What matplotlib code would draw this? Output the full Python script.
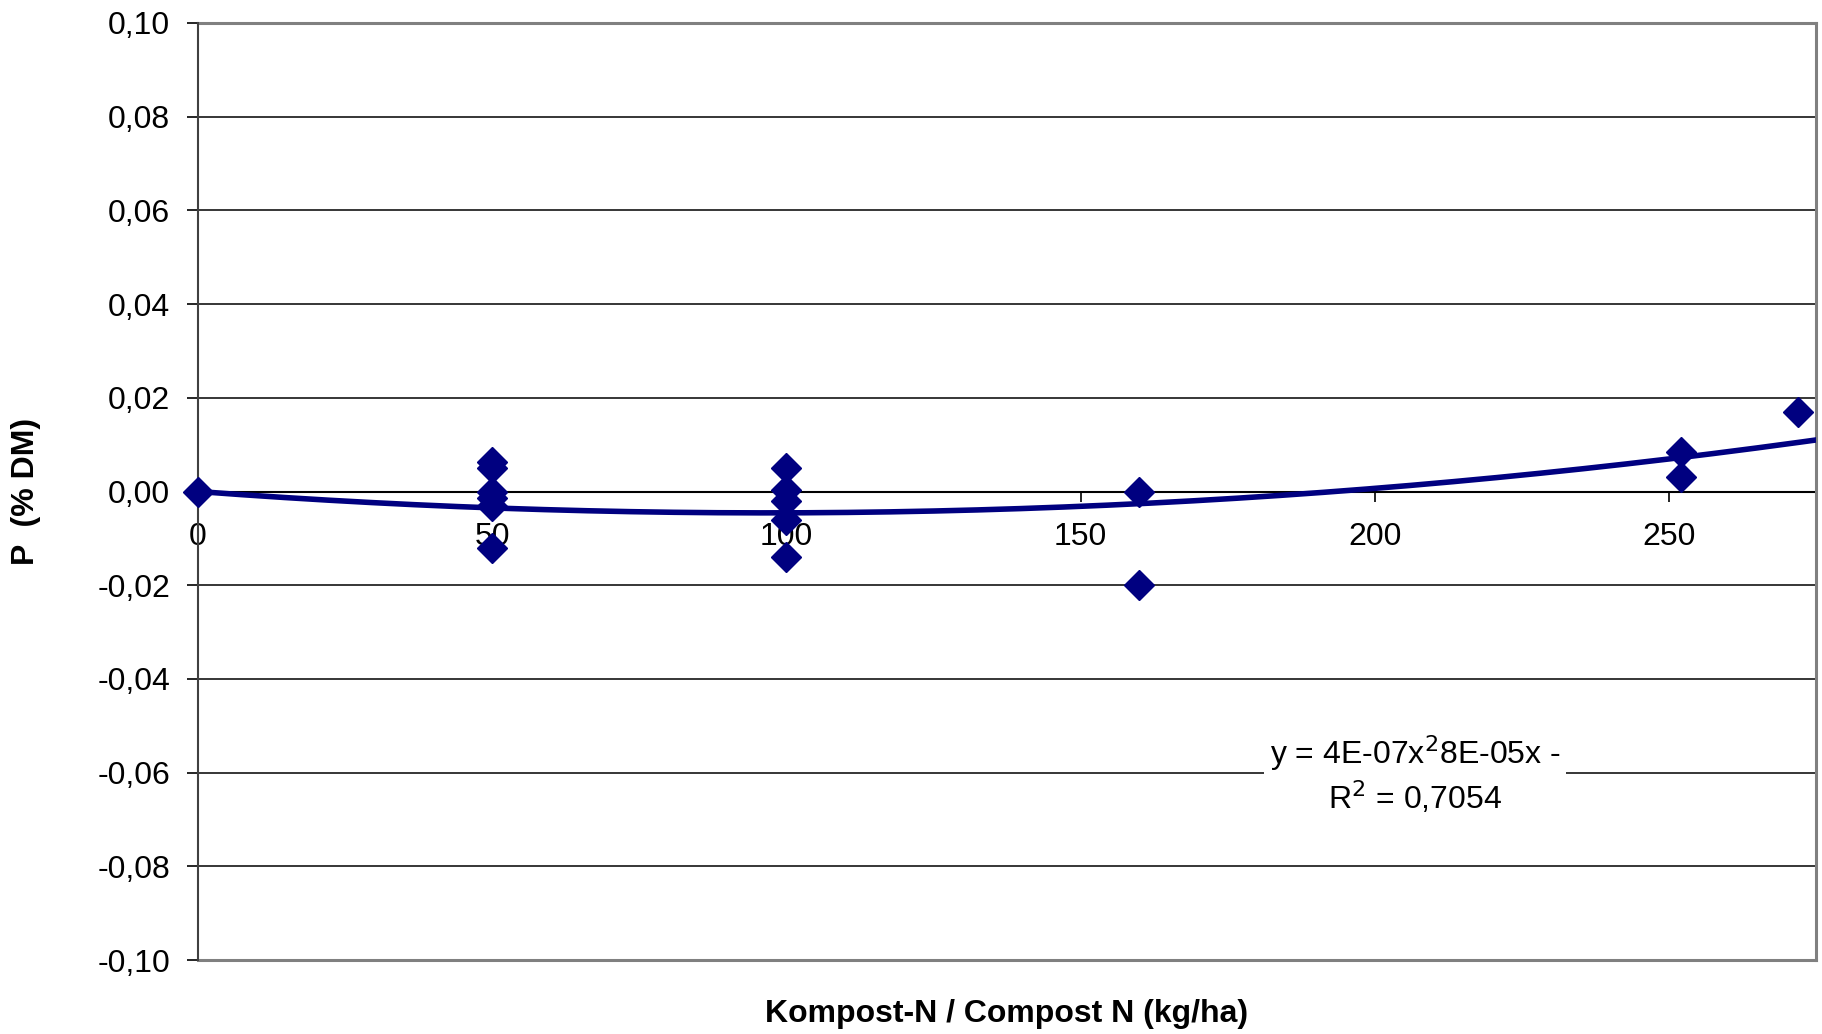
import numpy as np
import matplotlib as mpl
mpl.use('Agg')
import matplotlib.pyplot as plt
from matplotlib.ticker import FuncFormatter

plt.rcParams['font.family'] = ['Liberation Sans', 'DejaVu Sans']

# compost N applied (kg/ha) and change in P content (% DM)
compost_n = [0, 50, 50, 50, 50, 50, 50, 100, 100, 100, 100, 100, 160, 160, 252, 252, 272]
p_change = [0.000, 0.0063, 0.005, 0.000, -0.0014, -0.003, -0.012,
            0.005, 0.0003, -0.002, -0.006, -0.014,
            0.000, -0.020, 0.0084, 0.003, 0.0169]

x_ticks = [0, 50, 100, 150, 200, 250]
y_ticks = [-0.10, -0.08, -0.06, -0.04, -0.02, 0.00, 0.02, 0.04, 0.06, 0.08, 0.10]

navy = '#000080'

fig = plt.figure(figsize=(18.22, 10.34), dpi=100)
ax = fig.add_axes([198 / 1822, 1 - 960 / 1034, (1816 - 198) / 1822, (960 - 23) / 1034])

# black grid lines inside, grey plot-area border
for yv in y_ticks[1:-1]:
    ax.axhline(yv, color='black', lw=1.1, zorder=1)
for yv in (y_ticks[0], y_ticks[-1]):
    ax.axhline(yv, color='#808080', lw=2.2, zorder=1, clip_on=False)

# second order trend line through the origin (y = a*x^2 + b*x)
xn = np.array(compost_n, dtype=float)
A = np.column_stack([xn ** 2, xn])
(a, b), *_ = np.linalg.lstsq(A, np.array(p_change), rcond=None)
xs = np.linspace(0, 275, 300)
ax.plot(xs, a * xs ** 2 + b * xs, color=navy, lw=4, zorder=3)

ax.plot(compost_n, p_change, linestyle='none', marker='D', markersize=15,
        color=navy, zorder=4, clip_on=False)

ax.set_xlim(0, 275)
ax.set_ylim(-0.10, 0.10)
ax.set_xticks(x_ticks)
ax.set_yticks(y_ticks)
ax.yaxis.set_major_formatter(FuncFormatter(lambda v, p: f'{v:.2f}'.replace('.', ',').replace('-0,00', '0,00')))

ax.spines['bottom'].set_position(('data', 0))
ax.spines['bottom'].set_color('black')
ax.spines['bottom'].set_linewidth(1.5)
ax.spines['bottom'].set_zorder(2)
ax.spines['left'].set_color('#404040')
ax.spines['left'].set_linewidth(1.5)
ax.spines['left'].set_zorder(2)
ax.spines['right'].set_color('#808080')
ax.spines['right'].set_linewidth(2.2)
ax.spines['top'].set_visible(False)

ax.tick_params(axis='x', direction='out', length=7, width=1.2, pad=15, labelsize=23)
ax.tick_params(axis='y', direction='out', length=8, width=1.2, pad=12, labelsize=23)

fig.text(1415 / 1822, 1 - 753 / 1034, 'y = 4E-07x$^2$8E-05x -',
         ha='center', va='center', fontsize=23, zorder=5,
         bbox=dict(facecolor='white', edgecolor='none', pad=4))
fig.text(1415 / 1822, 1 - 798 / 1034, 'R$^2$ = 0,7054',
         ha='center', va='center', fontsize=23, zorder=5)

fig.text(1007 / 1822, 1 - 1014 / 1034, 'Kompost-N / Compost N (kg/ha)',
         ha='center', va='center', fontsize=23, fontweight='bold')
fig.text(26 / 1822, 1 - 491 / 1034, 'P  (% DM)', rotation=90,
         ha='center', va='center', fontsize=23, fontweight='bold')

fig.savefig('out.png', dpi=100, facecolor='white')
